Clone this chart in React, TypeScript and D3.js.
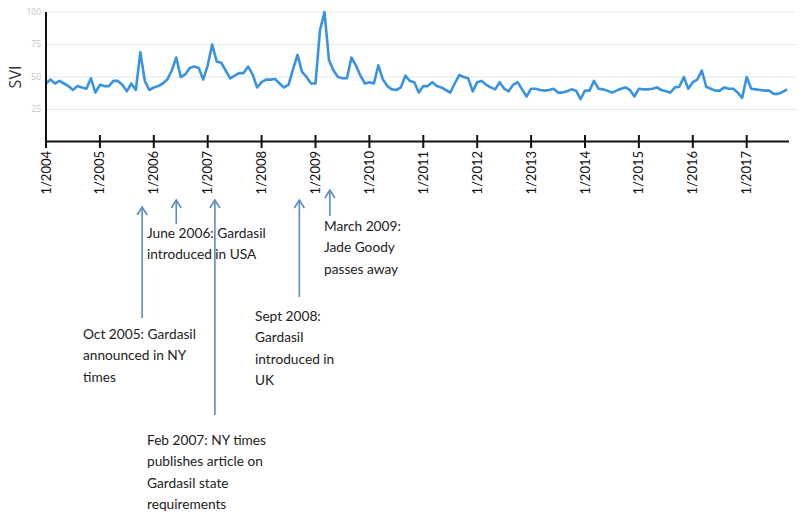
import React from "react";
import * as d3 from "d3";

// Monthly search volume index, Jan 2004 .. Oct 2017
const svi: number[] = [
  45, 48, 45, 47, 45, 43, 40, 43, 42, 41, 49, 38, 44, 43, 43, 47, 47, 44, 39, 45, 40, 69, 47, 40, 42, 43, 45, 48, 55, 65,
  50, 52, 57, 58, 57, 48, 59, 75, 62, 61, 55, 49, 51, 53, 53, 58, 52, 42, 46, 48,
  48, 48.5, 45, 42, 44, 56, 67, 54, 50, 45, 45, 86, 100, 63, 55, 50, 49, 49, 65, 59,
  51, 45, 46, 45, 59, 48, 43, 40.5, 40, 42, 51, 47, 46, 38, 43, 43, 46, 43, 42, 40,
  38, 45, 51.5, 50, 49, 39, 46, 47, 44, 42, 40.5, 46, 41, 39, 44, 46, 40.5, 35, 41, 41,
  40, 39.5, 40, 41, 38, 38, 39, 40.5, 39.5, 33, 39.5, 39.5, 47, 41, 40.5, 39.5, 38, 39.5, 41, 42,
  40, 35, 41, 40.5, 40.5, 41, 42, 40, 39, 38, 42, 42.5, 50, 41, 46, 48, 55, 42.5, 41, 39.5,
  39.5, 42, 41, 41, 38, 34, 50, 41, 40.5, 40, 39.5, 39.5, 37, 37, 38.5, 40.5,
];

const yearLabels: string[] = [
  "1/2004", "1/2005", "1/2006", "1/2007", "1/2008", "1/2009", "1/2010",
  "1/2011", "1/2012", "1/2013", "1/2014", "1/2015", "1/2016", "1/2017",
];

const yTicks: number[] = [25, 50, 75, 100];

// Events (month index from Jan 2004, as drawn) and their text
const eventMonths: number[] = [21.4, 29, 37.6, 56.4, 63.2];
const eventTexts: string[][] = [
  ["Oct 2005: Gardasil", "announced in NY", "times"],
  ["June 2006: Gardasil", "introduced in USA"],
  ["Feb 2007: NY times", "publishes article on", "Gardasil state", "requirements"],
  ["Sept 2008:", "Gardasil", "introduced in", "UK"],
  ["March 2009:", "Jade Goody", "passes away"],
];

// layout of the annotations (arrow tip, arrow tail, text anchor)
const eventLayout = [
  { tip: 207, tail: 318, tx: 83, ty: 339 },
  { tip: 200, tail: 224, tx: 147, ty: 238 },
  { tip: 200, tail: 415, tx: 147, ty: 445 },
  { tip: 200, tail: 297, tx: 255, ty: 321 },
  { tip: 190, tail: 216, tx: 324, ty: 231 },
];

const W = 800;
const H = 518;
const TEXT_FONT = "Lato, 'Open Sans', sans-serif";

export default function App() {
  const x = d3.scaleLinear().domain([0, 156]).range([46, 746.7]);
  const y = d3.scaleLinear().domain([0, 100]).range([142, 12]);
  const line = d3
    .line<number>()
    .x((_, i) => x(i))
    .y((d) => y(d));
  const arrowColor = "#5b8cc4";

  return (
    <svg
      width={W}
      height={H}
      style={{ position: "absolute", left: 0, top: 0, background: "#fff" }}
    >
      <rect x={0} y={0} width={W} height={H} fill="#fff" />
      {/* gridlines */}
      {yTicks.map((t) => (
        <g key={t}>
          <line x1={46} x2={797} y1={y(t)} y2={y(t)} stroke="#e6e6e6" strokeWidth={1} />
          <text
            x={41}
            y={y(t)}
            dy="0.35em"
            textAnchor="end"
            fontFamily="'Open Sans', sans-serif"
            fontSize={8.5}
            fill="#c4c4c4"
          >
            {t}
          </text>
        </g>
      ))}
      {/* y axis title */}
      <text
        transform={`translate(21,${y(50)}) rotate(-90)`}
        textAnchor="middle"
        fontFamily="'Open Sans', sans-serif"
        fontSize={16}
        fill="#333"
      >
        SVI
      </text>
      {/* data line */}
      <path d={line(svi) || ""} fill="none" stroke="#3a93e0" strokeWidth={2.6} strokeLinejoin="round" />
      {/* axes */}
      <line x1={46} x2={46} y1={12} y2={142} stroke="#111" strokeWidth={2} />
      <line x1={45} x2={789} y1={141.5} y2={141.5} stroke="#111" strokeWidth={2} />
      {yearLabels.map((lab, k) => {
        const xx = x(k * 12);
        return (
          <g key={lab}>
            <line x1={xx} x2={xx} y1={135} y2={148} stroke="#111" strokeWidth={2} />
            <text
              transform={`translate(${xx},151) rotate(-90)`}
              textAnchor="end"
              dy="0.35em"
              fontFamily={TEXT_FONT}
              fontSize={13}
              fill="#111"
            >
              {lab}
            </text>
          </g>
        );
      })}
      {/* annotations */}
      {eventMonths.map((m, k) => {
        const L = eventLayout[k];
        const xx = x(m);
        return (
          <g key={k}>
            <line x1={xx} x2={xx} y1={L.tip} y2={L.tail} stroke={arrowColor} strokeWidth={1.6} />
            <path
              d={`M${xx - 5},${L.tip + 8} L${xx},${L.tip} L${xx + 5},${L.tip + 8}`}
              fill="none"
              stroke={arrowColor}
              strokeWidth={1.6}
            />
            <text fontFamily={TEXT_FONT} fontSize={13.7} fill="#222">
              {eventTexts[k].map((s, j) => (
                <tspan key={j} x={L.tx} y={L.ty + j * 21.3}>
                  {s}
                </tspan>
              ))}
            </text>
          </g>
        );
      })}
    </svg>
  );
}
